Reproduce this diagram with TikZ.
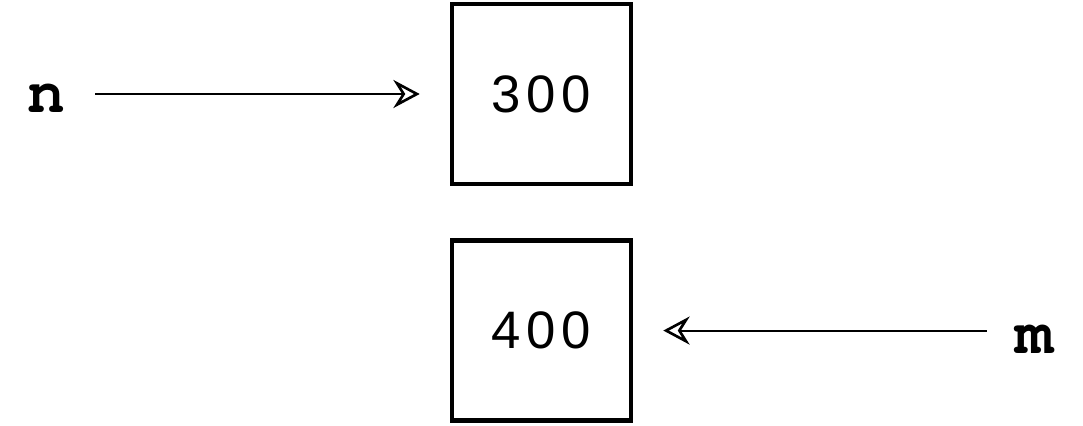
\documentclass[tikz,border=0pt]{standalone}
\usepackage[T1,TU]{fontenc}
\usepackage{fontspec}
\newfontfamily\cellfont[LetterSpace=11]{Liberation Sans}
\newcommand{\varfont}{\fontencoding{T1}\fontfamily{pcr}\fontseries{b}\selectfont}
\usetikzlibrary{arrows.meta, positioning}

\begin{document}
\begin{tikzpicture}[
  cell/.style  = {draw, line width=2.6pt, minimum width=3.58cm,
                  minimum height=3.6cm, inner sep=0pt,
                  font=\cellfont\fontsize{30}{36}\selectfont},
  var/.style   = {inner sep=0pt, anchor=base,
                  font=\varfont\fontsize{36}{40}\selectfont},
  arr/.style   = {-{Stealth[open, length=15pt, width=16pt, inset=5pt,
                  line width=1.5pt]}, line width=1.2pt}
]
\useasboundingbox (0,0) rectangle (21.66,-8.52);

%% ---- memory cells ----
\node[cell] (cell300) at (10.83,-1.88) {300};
\node[cell, below=1.04cm of cell300] (cell400) {400};

%% ---- variables ----
\node[var] (n) at (0.92,-2.26) {n};
\node[var] (m) at (20.68,-7.06) {m};

% arrows
\draw[arr, shorten <=0.6cm, shorten >=0.6cm]
  (n.east |- cell300.west) -- (cell300.west);
\draw[arr, shorten <=0.56cm, shorten >=0.6cm]
  (m.west |- cell400.east) -- (cell400.east);

\end{tikzpicture}
\end{document}
